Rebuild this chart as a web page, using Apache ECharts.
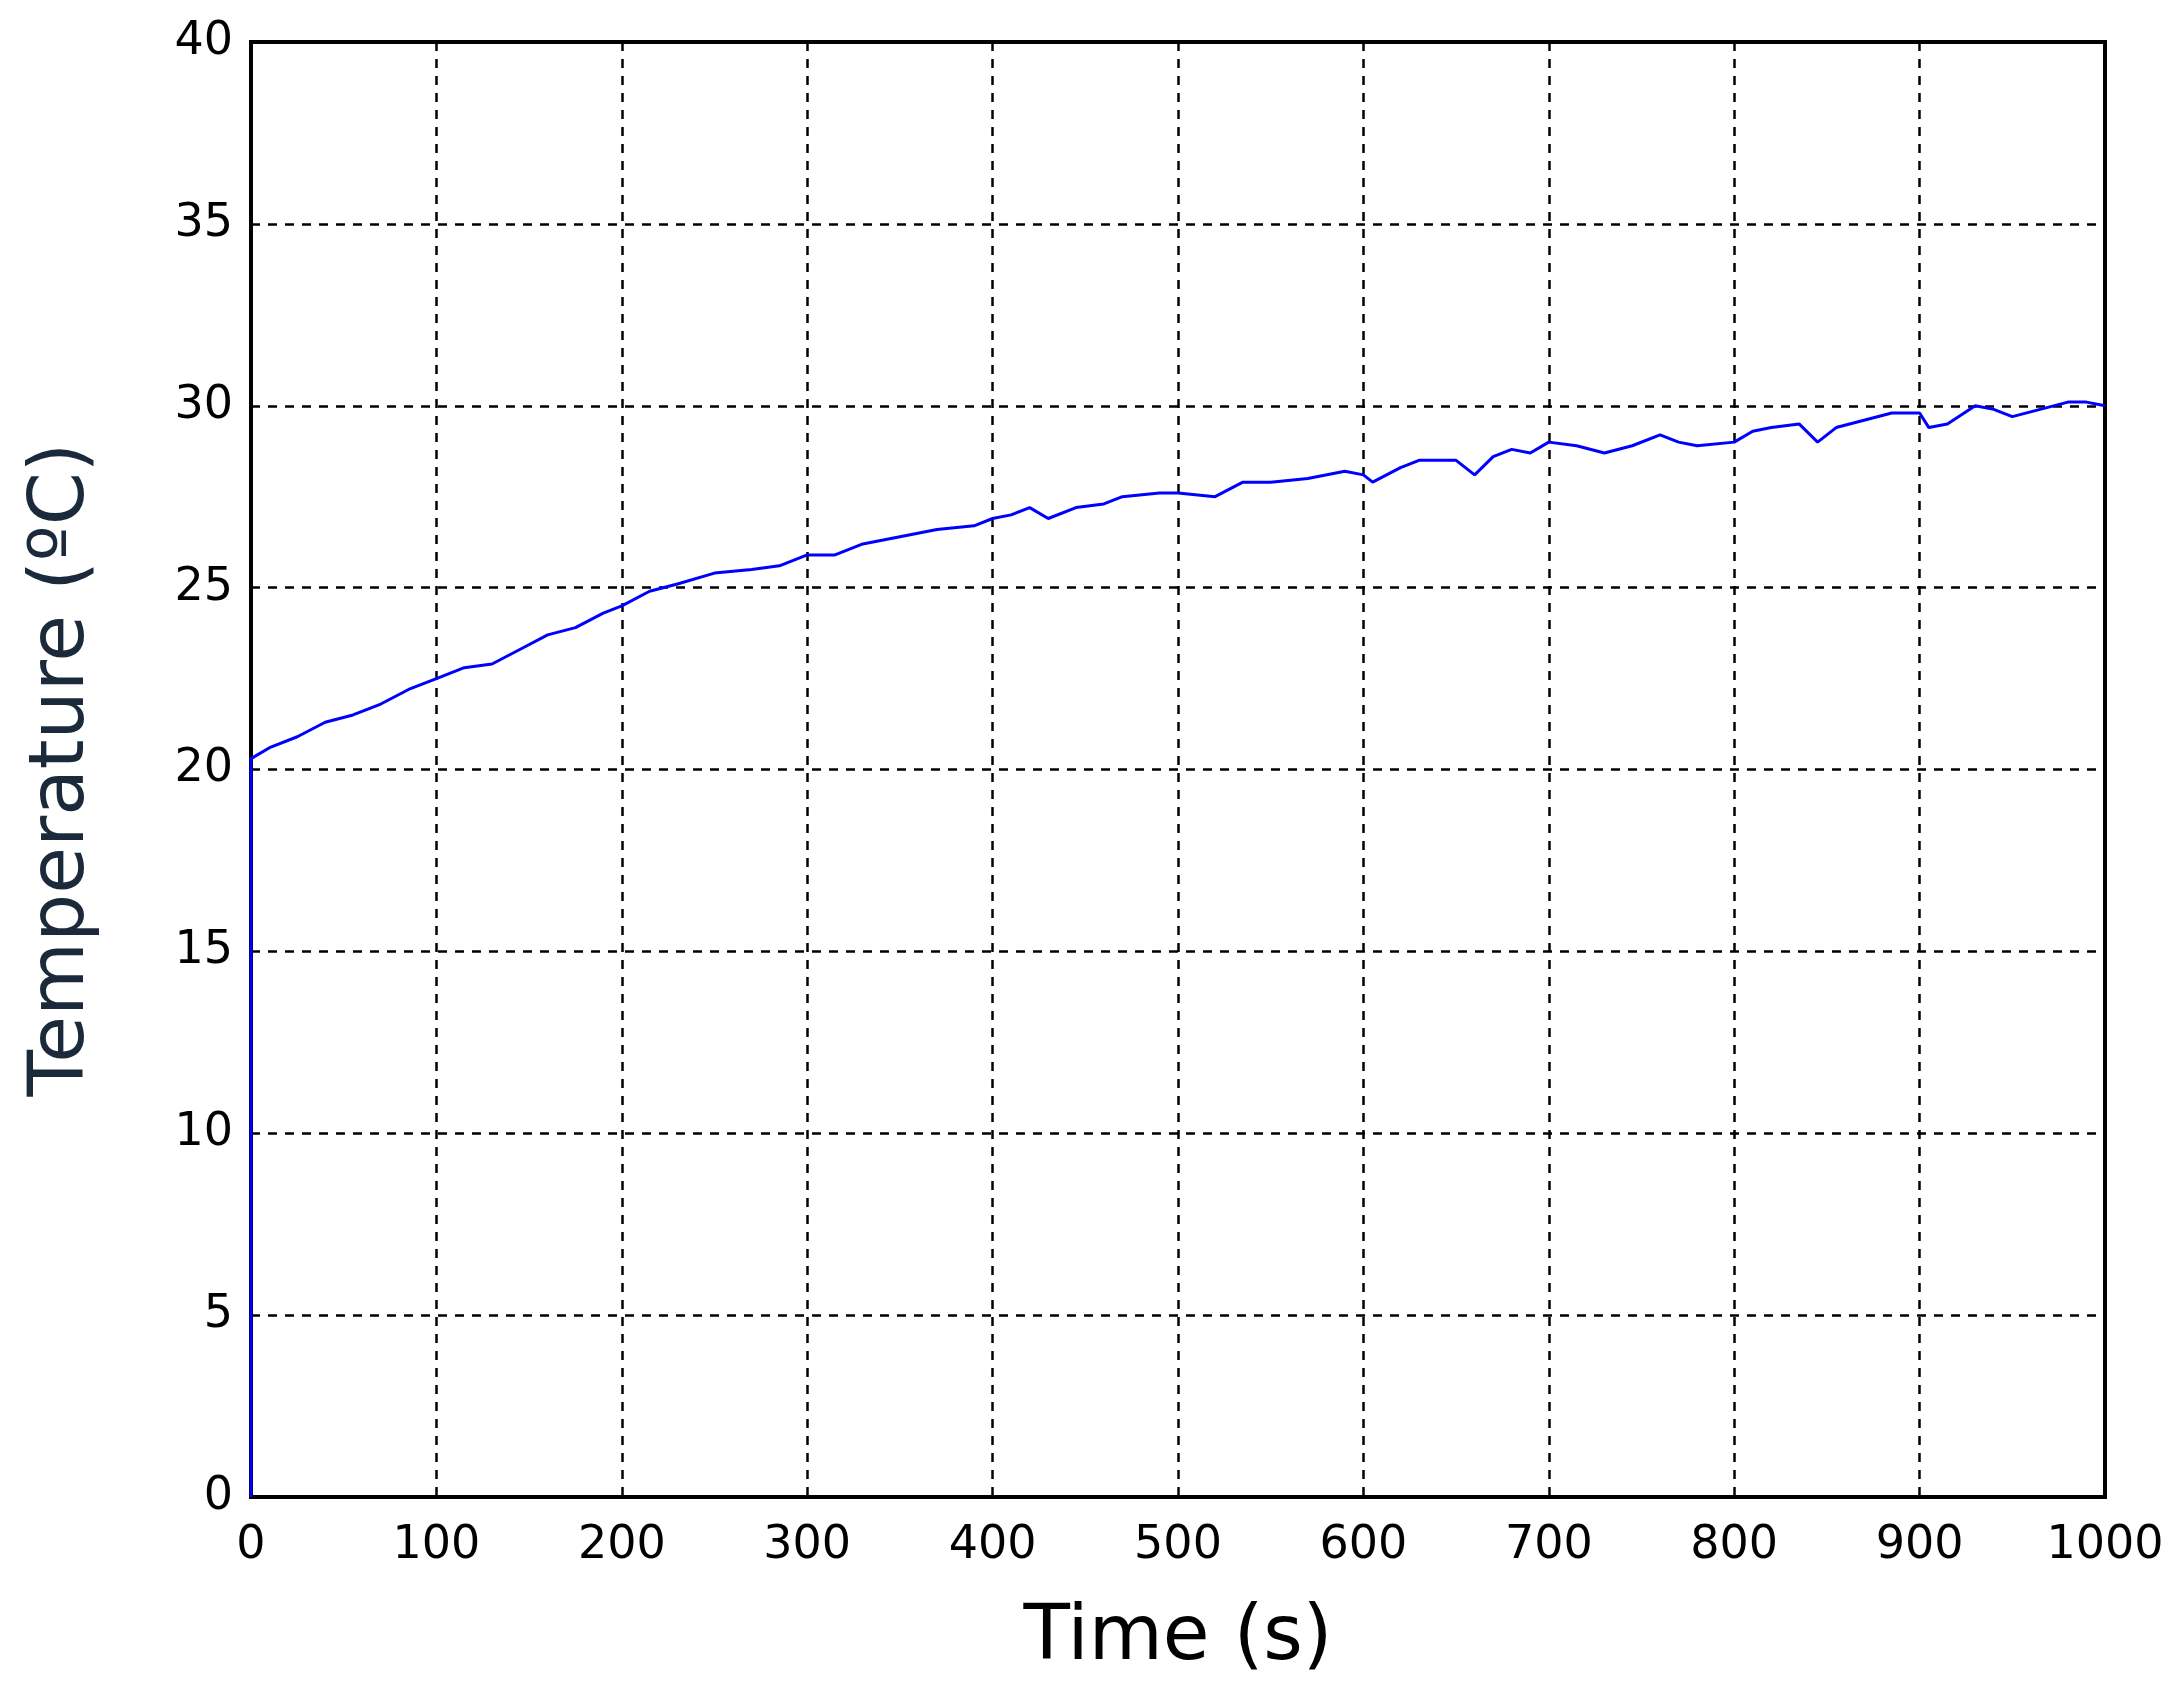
<!DOCTYPE html>
<html><head><meta charset="utf-8">
<script src="https://cdn.jsdelivr.net/npm/echarts@6/dist/echarts.min.js"></script>
<style>html,body{margin:0;background:#fff}#chart{width:2176px;height:1691px}</style>
</head><body><div id="chart"></div>
<script>
var times = [0, 0, 10, 25, 40, 55, 70, 85, 100, 115, 130, 145, 160, 175, 190, 200, 215, 230, 250, 270, 285, 300, 315, 330, 350, 370, 390, 400, 410, 420, 430, 445, 460, 470, 490, 500, 520, 535, 550, 570, 590, 600, 605, 620, 630, 650, 660, 670, 680, 690, 700, 715, 730, 745, 760, 770, 780, 800, 810, 820, 835, 845, 855, 870, 885, 900, 905, 915, 930, 940, 950, 965, 980, 990, 1000];
var temps = [0, 20.3, 20.6, 20.9, 21.3, 21.5, 21.8, 22.2, 22.5, 22.8, 22.9, 23.3, 23.7, 23.9, 24.3, 24.5, 24.9, 25.1, 25.4, 25.5, 25.6, 25.9, 25.9, 26.2, 26.4, 26.6, 26.7, 26.9, 27.0, 27.2, 26.9, 27.2, 27.3, 27.5, 27.6, 27.6, 27.5, 27.9, 27.9, 28.0, 28.2, 28.1, 27.9, 28.3, 28.5, 28.5, 28.1, 28.6, 28.8, 28.7, 29.0, 28.9, 28.7, 28.9, 29.2, 29.0, 28.9, 29.0, 29.3, 29.4, 29.5, 29.0, 29.4, 29.6, 29.8, 29.8, 29.4, 29.5, 30.0, 29.9, 29.7, 29.9, 30.1, 30.1, 30.0];
var xTicks = [0, 100, 200, 300, 400, 500, 600, 700, 800, 900, 1000];
var yTicks = [0, 5, 10, 15, 20, 25, 30, 35, 40];

var chart = echarts.init(document.getElementById('chart'));
var gridLine = { show: true, lineStyle: { color: '#000', type: [9, 8], width: 2.5 } };
chart.setOption({
    animation: false,
    grid: { left: 251, right: 71, top: 42, bottom: 194, show: true, borderColor: '#000', borderWidth: 4 },
    xAxis: {
        type: 'value', min: xTicks[0], max: xTicks[xTicks.length - 1], interval: 100,
        name: 'Time (s)', nameLocation: 'middle', nameGap: 104,
        nameTextStyle: { fontSize: 76, color: '#000', fontFamily: 'DejaVu Sans' },
        axisLine: { show: false }, axisTick: { show: false },
        axisLabel: { fontSize: 46, color: '#000', margin: 26, fontFamily: 'DejaVu Sans', formatter: function (v) { return String(v); } },
        splitLine: gridLine
    },
    yAxis: {
        type: 'value', min: yTicks[0], max: yTicks[yTicks.length - 1], interval: 5,
        name: 'Temperature (ºC)', nameLocation: 'middle', nameGap: 150,
        nameTextStyle: { fontSize: 76, color: '#1a2a3a', fontFamily: 'DejaVu Sans' },
        axisLine: { show: false }, axisTick: { show: false },
        axisLabel: { fontSize: 46, color: '#000', margin: 18, fontFamily: 'DejaVu Sans' },
        splitLine: gridLine
    },
    series: [{
        type: 'line', showSymbol: false,
        data: times.map(function (t, i) { return [t, temps[i]]; }),
        lineStyle: { color: '#0000ff', width: 3 }
    }]
});
</script></body></html>
